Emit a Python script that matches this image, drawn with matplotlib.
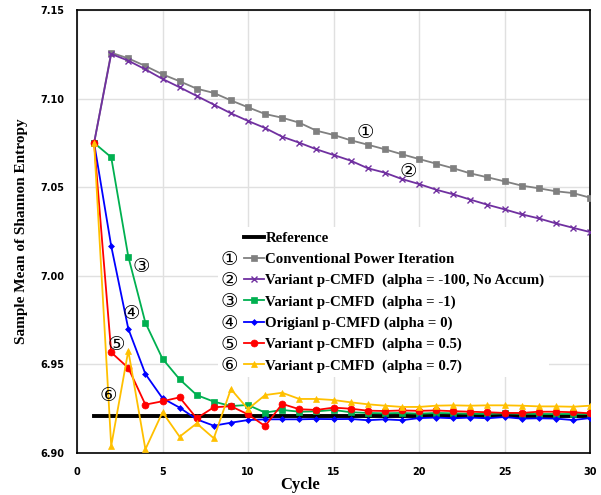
import matplotlib
matplotlib.use("Agg")
import matplotlib.pyplot as plt
from matplotlib.patches import Rectangle
import numpy as np

cycles = list(range(1, 31))

conventional = [7.075, 7.1259, 7.1227, 7.1184, 7.1137, 7.1098, 7.1056, 7.1032, 7.0990, 7.0951,
                7.0913, 7.0892, 7.0864, 7.0819, 7.0795, 7.0765, 7.0740, 7.0714, 7.0686, 7.0659,
                7.0633, 7.0607, 7.0578, 7.0556, 7.0533, 7.0509, 7.0494, 7.0477, 7.0467, 7.0441]
variant_m100 = [7.075, 7.1252, 7.1214, 7.1165, 7.1111, 7.1064, 7.1015, 7.0966, 7.0917, 7.0874,
                7.0834, 7.0785, 7.0751, 7.0714, 7.0682, 7.0650, 7.0607, 7.0582, 7.0546, 7.0518,
                7.0486, 7.0460, 7.0430, 7.0401, 7.0375, 7.0347, 7.0324, 7.0296, 7.0271, 7.0247]
variant_m1 = [7.075, 7.0669, 7.0108, 6.9735, 6.9532, 6.9416, 6.9327, 6.9290, 6.9265, 6.9271,
              6.9228, 6.9243, 6.9233, 6.9235, 6.9243, 6.9230, 6.9226, 6.9224, 6.9226, 6.9222,
              6.9226, 6.9224, 6.9221, 6.9220, 6.9224, 6.9221, 6.9220, 6.9220, 6.9220, 6.9220]
original_0 = [7.075, 7.0168, 6.9701, 6.9446, 6.9309, 6.9256, 6.9190, 6.9154, 6.9171, 6.9186,
              6.9190, 6.9190, 6.9190, 6.9192, 6.9191, 6.9192, 6.9185, 6.9190, 6.9185, 6.9197,
              6.9200, 6.9196, 6.9200, 6.9196, 6.9203, 6.9194, 6.9196, 6.9194, 6.9186, 6.9197]
variant_05 = [7.075, 6.9568, 6.9480, 6.9273, 6.9292, 6.9314, 6.9196, 6.9258, 6.9264, 6.9218,
              6.9152, 6.9277, 6.9247, 6.9243, 6.9256, 6.9250, 6.9239, 6.9237, 6.9240, 6.9238,
              6.9240, 6.9236, 6.9233, 6.9230, 6.9226, 6.9226, 6.9233, 6.9233, 6.9230, 6.9224]
variant_07 = [7.075, 6.9040, 6.9577, 6.9021, 6.9230, 6.9092, 6.9167, 6.9083, 6.9361, 6.9248,
              6.9327, 6.9340, 6.9305, 6.9305, 6.9299, 6.9286, 6.9275, 6.9267, 6.9260, 6.9260,
              6.9267, 6.9269, 6.9267, 6.9269, 6.9269, 6.9267, 6.9263, 6.9263, 6.9261, 6.9267]
reference_value = 6.921

labels = ["Conventional Power Iteration",
          "Variant p-CMFD  (alpha = -100, No Accum)",
          "Variant p-CMFD  (alpha = -1)",
          "Origianl p-CMFD (alpha = 0)",
          "Variant p-CMFD  (alpha = 0.5)",
          "Variant p-CMFD  (alpha = 0.7)"]
circled = ["\u2460", "\u2461", "\u2462", "\u2463", "\u2464", "\u2465"]

serif = ["Liberation Serif", "DejaVu Serif"]
circ_fam = ["DejaVu Sans"]

fig = plt.figure(figsize=(6.01, 4.95), dpi=100)
ax = fig.add_axes([77/601, 1 - 453/495, 513/601, 443/495])

ax.plot([cycles[0], cycles[-1]], [reference_value, reference_value], color="black", lw=2.8,
        label="Reference", zorder=3)
series = [conventional, variant_m100, variant_m1, original_0, variant_05, variant_07]
colors = ["#808080", "#7030A0", "#00B050", "#0000FF", "#FF0000", "#FFC000"]
markers = ["s", "x", "s", "D", "o", "^"]
msizes = [4.5, 4.5, 4, 3, 5, 5]
for s, c, m, ms, lab in zip(series, colors, markers, msizes, labels):
    ax.plot(cycles, s, color=c, marker=m, ms=ms, lw=1.3, label=lab, zorder=4,
            markeredgewidth=1.0 if m == "x" else 0.5)

ax.set_xlim(0, 30)
ax.set_ylim(6.90, 7.15)
ax.set_xticks(range(0, 31, 5))
ax.set_yticks(np.arange(6.90, 7.151, 0.05))
ax.set_yticklabels([f"{v:.2f}" for v in np.arange(6.90, 7.151, 0.05)])
ax.grid(True, color="#e0e0e0", lw=1.0)
ax.set_axisbelow(True)
ax.tick_params(length=0, labelsize=7)
ax.tick_params(axis="y", pad=9)
ax.tick_params(axis="x", pad=10)
for lbl in ax.get_xticklabels() + ax.get_yticklabels():
    lbl.set_fontweight("bold")
for sp in ax.spines.values():
    sp.set_color("black")
    sp.set_linewidth(1.2)

ax.set_xlabel("Cycle", fontfamily=serif, fontweight="bold", fontsize=12)
ax.xaxis.set_label_coords((300 - 77) / 513, (453 - 485) / 443)
ax.xaxis.label.set_va("center")
ax.set_ylabel("Sample Mean of Shannon Entropy", fontfamily=serif, fontweight="bold", fontsize=11)
ax.yaxis.set_label_coords(-0.095, 0.5)

leg = ax.legend(loc="upper left", bbox_to_anchor=((240 - 77) / 513, (453 - 227) / 443),
                frameon=True, framealpha=1, facecolor="white", edgecolor="none",
                prop={"family": serif, "weight": "bold", "size": 10.7},
                handlelength=1.3, handletextpad=0.1, labelspacing=0.52,
                borderpad=0.3, borderaxespad=0)
leg.set_zorder(10)

ax.add_patch(Rectangle(((218 - 77) / 513, (453 - 378) / 443), (245 - 218) / 513,
                       (378 - 227) / 443, transform=ax.transAxes, facecolor="white",
                       edgecolor="none", zorder=9))

fig.canvas.draw()
inv = ax.transAxes.inverted()
texts = leg.get_texts()[1:]
for ch, t in zip(circled, texts):
    bb = t.get_window_extent()
    yc = inv.transform((0, (bb.y0 + bb.y1) / 2))[1]
    ax.text((229 - 77) / 513, yc, ch, transform=ax.transAxes, ha="center",
            va="center", fontsize=14, family=circ_fam, zorder=11)

ann = [(16.84, 7.0806), (19.36, 7.0586), (3.74, 7.0055), (3.16, 6.979), (2.32, 6.9612), (1.85, 6.9327)]
for ch, (xa, ya) in zip(circled, ann):
    ax.text(xa, ya, ch, ha="center", va="center", fontsize=14, family=circ_fam, zorder=6)

fig.savefig("out.png", dpi=100)
